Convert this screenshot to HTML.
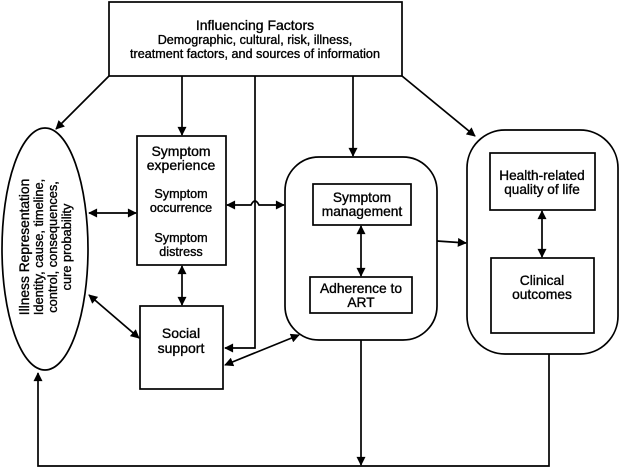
<!DOCTYPE html>
<html><head><style>body{margin:0;background:#fff}</style></head><body>
<svg width="620" height="469" viewBox="0 0 620 469" xmlns="http://www.w3.org/2000/svg" font-family="Liberation Sans, sans-serif">
<defs><marker id="a" viewBox="0 0 10 10" refX="9" refY="5" markerWidth="10" markerHeight="9" markerUnits="userSpaceOnUse" orient="auto-start-reverse"><path d="M0,0L10,5L0,10z" fill="#000"/></marker></defs>
<g fill="none" stroke="#000" stroke-width="1.7">
<rect x="109" y="2" width="293" height="74" fill="#fff"/>
<ellipse cx="45" cy="249" rx="43" ry="121"/>
<rect x="137" y="136" width="89" height="129"/>
<rect x="140" y="306" width="83" height="83"/>
<rect x="285" y="157" width="152" height="183" rx="34"/>
<rect x="313" y="184" width="98" height="41"/>
<rect x="310" y="277" width="102" height="36"/>
<rect x="467" y="130" width="151" height="224" rx="38"/>
<rect x="490" y="153" width="105" height="57"/>
<rect x="491" y="258" width="103" height="75"/>
<path d="M109,76L56,129" marker-end="url(#a)"/>
<path d="M182,76V135" marker-end="url(#a)"/>
<path d="M255,76V348H225" marker-end="url(#a)"/>
<path d="M353,76V156" marker-end="url(#a)"/>
<path d="M402,76L475,136" marker-end="url(#a)"/>
<path d="M89,213H136" marker-start="url(#a)" marker-end="url(#a)"/>
<path d="M227,205H251Q255,197 259,205H284" marker-start="url(#a)" marker-end="url(#a)"/>
<path d="M182,266V305" marker-start="url(#a)" marker-end="url(#a)"/>
<path d="M89,295L139,338" marker-start="url(#a)" marker-end="url(#a)"/>
<path d="M225,365L299,335" marker-start="url(#a)" marker-end="url(#a)"/>
<path d="M361,226V276" marker-start="url(#a)" marker-end="url(#a)"/>
<path d="M437,241L466,243" marker-end="url(#a)"/>
<path d="M542,211V257" marker-start="url(#a)" marker-end="url(#a)"/>
<path d="M361,340V465" marker-end="url(#a)"/>
<path d="M549,354V466H38V373" marker-end="url(#a)"/>
</g>
<g font-size="12.6" text-anchor="middle" fill="#000" stroke="#000" stroke-width="0.35">
<text x="255" y="30" font-size="14">Influencing Factors</text>
<text x="255" y="44">Demographic, cultural, risk, illness,</text>
<text x="255" y="58">treatment factors, and sources of information</text>
<text x="181" y="156" font-size="14">Symptom</text><text x="181" y="170" font-size="14">experience</text>
<text x="181" y="198">Symptom</text><text x="181" y="212">occurrence</text>
<text x="181" y="242">Symptom</text><text x="181" y="256">distress</text>
<text x="181" y="338" font-size="14">Social</text><text x="181" y="353" font-size="14">support</text>
<text x="362" y="202" font-size="13.8">Symptom</text><text x="362" y="216" font-size="13.8">management</text>
<text x="361" y="293" font-size="13.8">Adherence to</text><text x="361" y="307" font-size="13.8">ART</text>
<text x="542" y="180" font-size="13.6">Health-related</text><text x="542" y="194" font-size="13.6">quality of life</text>
<text x="542" y="285" font-size="13.8">Clinical</text><text x="542" y="299" font-size="13.8">outcomes</text>
</g>
<g font-size="12.8" text-anchor="middle" stroke="#000" stroke-width="0.35" transform="translate(45,247) rotate(-90)">
<text x="0" y="-16" font-size="13.8">Illness Representation</text>
<text x="0" y="-2">Identity, cause, timeline,</text>
<text x="0" y="12">control, consequences,</text>
<text x="0" y="26">cure probability</text>
</g>
</svg>
</body></html>
